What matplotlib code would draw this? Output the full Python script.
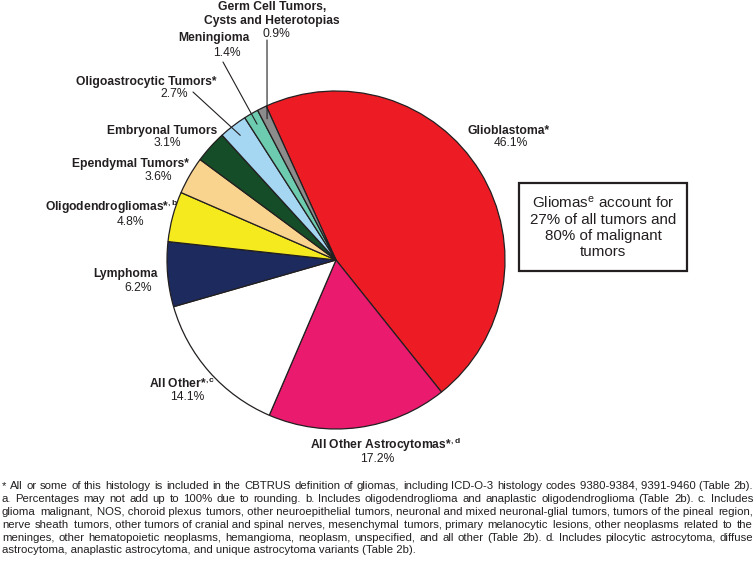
import matplotlib
matplotlib.use("Agg")
import matplotlib.pyplot as plt
import numpy as np
from matplotlib.patches import Rectangle

plt.rcParams['font.family'] = ['Liberation Sans', 'DejaVu Sans']
plt.rcParams['mathtext.fontset'] = 'custom'
plt.rcParams['mathtext.rm'] = 'Liberation Sans'
plt.rcParams['mathtext.bf'] = 'Liberation Sans:bold'
plt.rcParams['mathtext.it'] = 'Liberation Sans:italic'

# ---------------- data ----------------
categories = ["Glioblastoma", "All Other Astrocytomas", "All Other", "Lymphoma",
              "Oligodendrogliomas", "Ependymal Tumors", "Embryonal Tumors",
              "Oligoastrocytic Tumors", "Meningioma",
              "Germ Cell Tumors, Cysts and Heterotopias"]
values = [46.1, 17.2, 14.1, 6.2, 4.8, 3.6, 3.1, 2.7, 1.4, 0.9]
label_texts = ["Glioblastoma*", r"All Other Astrocytomas*$^{\mathbf{,d}}$",
               r"All Other*$^{\mathbf{,c}}$", "Lymphoma",
               r"Oligodendrogliomas*$^{\mathbf{,b}}$", "Ependymal Tumors*",
               "Embryonal Tumors", "Oligoastrocytic Tumors*", "Meningioma",
               "Germ Cell Tumors,\nCysts and Heterotopias"]
pct_texts = ["46.1%", "17.2%", "14.1%", "6.2%", "4.8%", "3.6%", "3.1%",
             "2.7%", "1.4%", "0.9%"]
colors = ["#ED1C24", "#EA1A6E", "#FFFFFF", "#1C2A5E", "#F4EA1E", "#F9D48E",
          "#144D27", "#A5D6F2", "#6DCBB0", "#8C8C8C"]

box_text = "Gliomas$^{\\mathrm{e}}$ account for\n27% of all tumors and\n80% of malignant\ntumors"

footnote_lines = [
    "* All or some of this histology is included in the CBTRUS definition of gliomas, including ICD-O-3 histology codes 9380-9384, 9391-9460 (Table 2b).",
    "a. Percentages may not add up to 100% due to rounding. b. Includes oligodendroglioma and anaplastic oligodendroglioma (Table 2b).  c. Includes",
    "glioma malignant, NOS, choroid plexus tumors, other neuroepithelial tumors, neuronal and mixed neuronal-glial tumors, tumors of the pineal region,",
    "nerve sheath tumors, other tumors of cranial and spinal nerves, mesenchymal tumors, primary melanocytic lesions, other neoplasms related to the",
    "meninges, other hematopoietic neoplasms, hemangioma, neoplasm, unspecified, and all other (Table 2b). d. Includes pilocytic astrocytoma, diffuse",
    "astrocytoma, anaplastic astrocytoma, and unique astrocytoma variants (Table 2b).",
]

# ---------------- layout ----------------
W, H = 756, 565
fig = plt.figure(figsize=(W / 100, H / 100), dpi=100)

def fx(x):
    return x / W

def fy(y):
    return 1 - y / H

cx, cy, r = 336, 260, 169
ax = fig.add_axes([fx(cx - r), fy(cy + r), 2 * r / W, 2 * r / H])
start = 114.4
wedges, _ = ax.pie(values, colors=colors, startangle=start, counterclock=False,
                   radius=1.0,
                   wedgeprops=dict(edgecolor="#231F20", linewidth=0.9))
ax.set_xlim(-1, 1)
ax.set_ylim(-1, 1)
ax.set_aspect("equal")
ax.axis("off")

# label positions (pixel, centre) for name and percentage
name_pos = [(509, 131, 'center'), (385, 445, 'center'), (182, 384, 'center'),
            (126, 274, 'center'), (178, 207, 'right'), (130, 164, 'center'),
            (162, 131, 'center'), (146, 82, 'center'), (214, 38, 'center'),
            (272, 14, 'center')]
pct_pos = [(511, 143), (377, 459), (187, 397), (138, 288), (130, 222),
           (158, 177), (167, 143), (174, 94), (227, 53), (276, 34)]

fs = 8.7
for i, (nm, pc) in enumerate(zip(label_texts, pct_texts)):
    x, y, ha = name_pos[i]
    fig.text(fx(x), fy(y), nm, ha=ha, va='center', fontsize=fs,
             fontweight='bold', color='#231F20', linespacing=1.15)
    px, py = pct_pos[i]
    fig.text(fx(px), fy(py), pc, ha='center', va='center', fontsize=fs,
             color='#231F20')

# leader lines for the three small slices
leader_from = {9: (267, 40), 8: (223, 62), 7: (193, 92)}
for idx, (lx, ly) in leader_from.items():
    w = wedges[idx]
    mid = np.deg2rad((w.theta1 + w.theta2) / 2)
    tx, ty = 0.93 * np.cos(mid), 0.93 * np.sin(mid)
    ax.annotate("", xy=(tx, ty), xycoords='data',
                xytext=(fx(lx), fy(ly)), textcoords='figure fraction',
                arrowprops=dict(arrowstyle='-', color='#231F20', lw=0.8,
                                shrinkA=0, shrinkB=0),
                annotation_clip=False)

# text box
bx0, by0, bx1, by1 = 519, 183, 687, 271
fig.patches.append(Rectangle((fx(bx0), fy(by1)), (bx1 - bx0) / W, (by1 - by0) / H,
                             transform=fig.transFigure, fill=False,
                             edgecolor='#231F20', linewidth=1.6))
fig.text(fx((bx0 + bx1) / 2), fy((by0 + by1) / 2), box_text, ha='center',
         va='center', fontsize=10.9, color='#231F20', linespacing=1.2)

# footnote, justified by word groups
left, right = 2, 753
baselines = [489, 502, 515, 528, 541, 553]
renderer = fig.canvas.get_renderer()

def width_of(s, size):
    t = fig.text(0, 0, s, fontsize=size)
    wv = t.get_window_extent(renderer).width
    t.remove()
    return wv

probe = 10.0
longest = max(width_of(l, probe) for l in footnote_lines[:-1])
foot_fs = probe * (right - left - 3) / longest

DESC = set("gjpqy()")

def needs_join(chunk):
    return ("," in chunk) and not any(c in DESC for c in chunk)

def group_words(words):
    groups = []
    cur = None
    for wd in words:
        if cur is None:
            cur = wd
        else:
            cur = cur + " " + wd
        if not needs_join(cur):
            groups.append(cur)
            cur = None
    if cur is not None:
        if groups:
            groups[-1] = groups[-1] + " " + cur
        else:
            groups.append(cur)
    return groups

for li, line in enumerate(footnote_lines):
    y = fy(baselines[li])
    if li == len(footnote_lines) - 1:
        fig.text(fx(left), y, line, ha='left', va='baseline', fontsize=foot_fs,
                 color='#231F20')
        continue
    words = [w for w in line.split(" ") if w]
    groups = group_words(words)
    tw = [width_of(g, foot_fs) for g in groups]
    gaps = len(groups) - 1
    gap = (right - left - sum(tw)) / gaps
    x = left
    for g, gw in zip(groups, tw):
        fig.text(fx(x), y, g, ha='left', va='baseline', fontsize=foot_fs,
                 color='#231F20')
        x += gw + gap

fig.savefig("out.png", dpi=100)
